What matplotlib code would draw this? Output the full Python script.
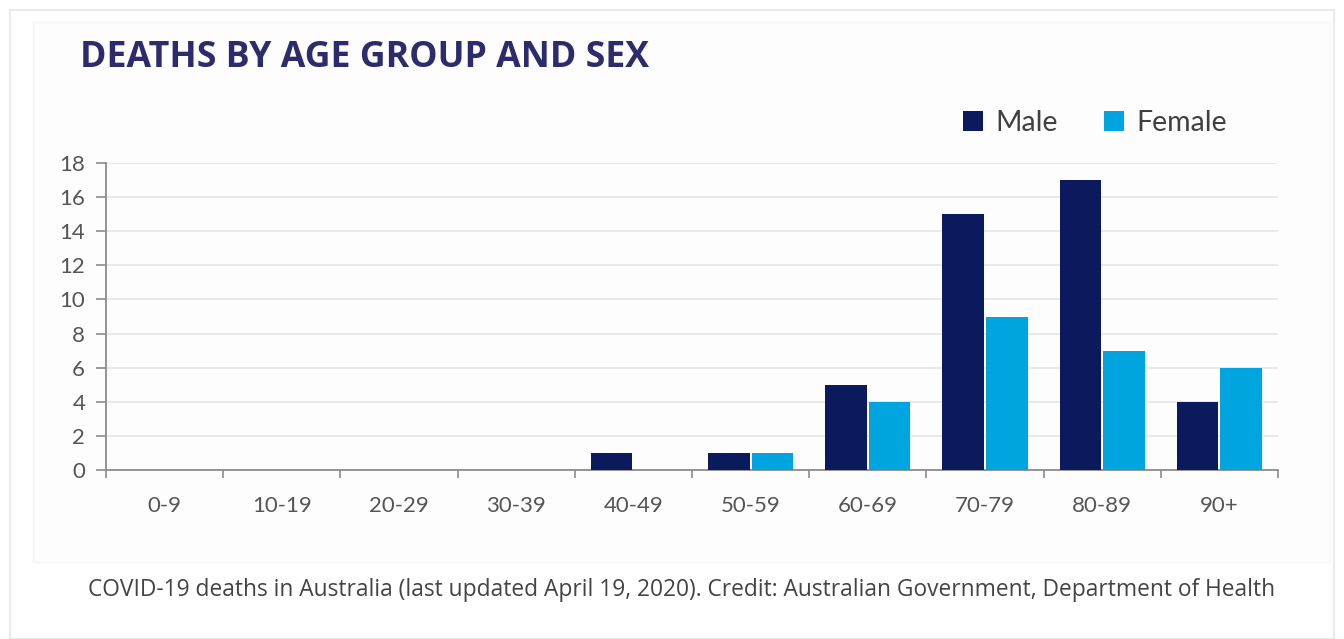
import matplotlib

matplotlib.use("Agg")
import matplotlib.pyplot as plt
import numpy as np
from matplotlib.patches import Rectangle

age_groups = ["0-9", "10-19", "20-29", "30-39", "40-49",
              "50-59", "60-69", "70-79", "80-89", "90+"]
male = [0, 0, 0, 0, 1, 1, 5, 15, 17, 4]
female = [0, 0, 0, 0, 0, 1, 4, 9, 7, 6]
y_ticks = list(range(0, 19, 2))

MALE_C = "#0b1a5c"
FEMALE_C = "#00a5e0"
TEXT_C = "#555555"

fig = plt.figure(figsize=(13.44, 6.39), dpi=100)
fig.patch.set_facecolor("white")

# page frame and chart panel, kept behind the axes
fig.patches.append(Rectangle((10 / 1344, 0), 1324 / 1344, 1 - 10 / 639,
                             transform=fig.transFigure, fc="white",
                             ec="#e6e6e6", lw=1.2, zorder=-2))
fig.patches.append(Rectangle((33 / 1344, 1 - 562 / 639), 1297 / 1344, 540 / 639,
                             transform=fig.transFigure, fc="#fdfdfd",
                             ec="#f5f5f5", lw=1, zorder=-1))

ax = fig.add_axes([106 / 1344, 1 - 470 / 639, 1172 / 1344, 307 / 639])
ax.set_facecolor("none")
ax.set_zorder(2)

x = np.arange(len(age_groups))
w = 0.355
ax.bar(x - w / 2 - 0.008, male, w, color=MALE_C, label="Male", zorder=3)
ax.bar(x + w / 2 + 0.008, female, w, color=FEMALE_C, label="Female", zorder=3)

ax.set_xlim(-0.5, len(age_groups) - 0.5)
ax.set_ylim(0, 18)
ax.set_yticks(y_ticks)
ax.set_yticklabels([str(v) for v in y_ticks], fontsize=16, color=TEXT_C,
                   family="Lato")
ax.yaxis.grid(True, color="#e6e6e6", lw=1.2, zorder=0)

ax.set_xticks(x)
ax.set_xticklabels(age_groups, fontsize=16, color=TEXT_C, family="Lato")
ax.set_xticks(np.arange(-0.5, len(age_groups)), minor=True)
ax.tick_params(axis="x", which="major", length=0, pad=19)
ax.tick_params(axis="x", which="minor", length=6, color="#8c8c8c", width=1.2)
ax.tick_params(axis="y", length=7, color="#8c8c8c", width=1.2, pad=8)

for side in ("top", "right"):
    ax.spines[side].set_visible(False)
for side in ("left", "bottom"):
    ax.spines[side].set_color("#8c8c8c")
    ax.spines[side].set_linewidth(1.3)

leg = fig.legend(loc="center", bbox_to_anchor=(1095 / 1344, 1 - 123 / 639),
                 ncol=2, frameon=False, handlelength=0.7,
                 handleheight=0.7, handletextpad=0.45, columnspacing=1.6,
                 prop={"family": "Lato", "size": 20.5})
for t in leg.get_texts():
    t.set_color("#404040")

fig.text(80 / 1344, 1 - 58 / 639, "DEATHS BY AGE GROUP AND SEX",
         fontsize=25.7, fontweight="bold", color="#2c2b6c", family="Open Sans",
         ha="left", va="center")

fig.text(682 / 1344, 1 - 590 / 639,
         "COVID-19 deaths in Australia (last updated April 19, 2020). "
         "Credit: Australian Government, Department of Health",
         fontsize=16.4, color="#444444", family="Open Sans",
         ha="center", va="center")

fig.savefig("out.png", dpi=100)
